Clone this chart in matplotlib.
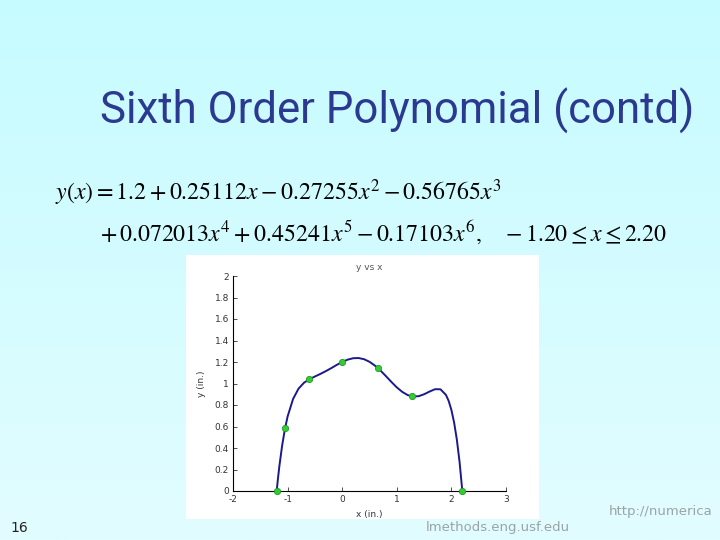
import numpy as np
import matplotlib.pyplot as plt
from matplotlib.patches import Rectangle

# Data points (green markers)
x_data = [-1.2, -1.05, -0.6, 0.0, 0.65, 1.27, 2.2]
y_data = [0.0, 0.59, 1.04, 1.2, 1.145, 0.88, 0.0]

# Curve
x_curve = [-1.2, -1.175, -1.15, -1.1, -1.05, -1.0, -0.9, -0.8, -0.7, -0.6, -0.5,
           -0.4, -0.3, -0.2, -0.1, 0.0, 0.1, 0.2, 0.3, 0.4, 0.5, 0.6, 0.7, 0.8,
           0.9, 1.0, 1.1, 1.2, 1.3, 1.4, 1.5, 1.6, 1.7, 1.8, 1.9, 1.95, 2.0,
           2.05, 2.1, 2.15, 2.2]
y_curve = [0.0, 0.123, 0.234, 0.423, 0.574, 0.693, 0.856, 0.952, 1.007, 1.040, 1.065,
           1.089, 1.115, 1.143, 1.173, 1.2, 1.222, 1.235, 1.237, 1.226, 1.202, 1.166, 1.121, 1.069,
           1.015, 0.964, 0.922, 0.892, 0.879, 0.882, 0.900, 0.925, 0.947, 0.946, 0.894, 0.838, 0.754,
           0.636, 0.477, 0.268, 0.0]

x_ticks = [-2, -1, 0, 1, 2, 3]
y_ticks = [0, 0.2, 0.4, 0.6, 0.8, 1, 1.2, 1.4, 1.6, 1.8, 2]

plt.rcParams['mathtext.fontset'] = 'stix'

fig = plt.figure(figsize=(7.2, 5.4), dpi=100)

# Slide background gradient
bg = fig.add_axes([0, 0, 1, 1], zorder=-10)
grad = np.linspace(0, 1, 256).reshape(-1, 1)
bg.imshow(grad, aspect='auto', extent=[0, 1, 0, 1], origin='upper',
          cmap=plt.matplotlib.colors.LinearSegmentedColormap.from_list(
              'slide', ['#c6fbff', '#e2fdff']))
bg.set_xlim(0, 1)
bg.set_ylim(0, 1)
bg.axis('off')

# White picture area of the chart
bg.add_patch(Rectangle((186 / 720, 1 - 519 / 540), (539 - 186) / 720, (519 - 255) / 540,
                       facecolor='white', edgecolor='none', zorder=2))

# Slide title
fig.text(100 / 720, 1 - 111 / 540, 'Sixth Order Polynomial (contd)', fontsize=31.5,
         color='#2b3a90', va='center', ha='left', family='Roboto')

# Equation lines
fig.text(55 / 720, 1 - 193 / 540,
         r'$y(x) = 1.2 + 0.25112x - 0.27255x^2 - 0.56765x^3$',
         fontsize=17.2, color='black', va='center', ha='left')
fig.text(100 / 720, 1 - 233 / 540,
         r'$+\,0.072013x^4 + 0.45241x^5 - 0.17103x^6,\quad -1.20 \leq x \leq 2.20$',
         fontsize=17.2, color='black', va='center', ha='left')

# Chart axes
ax = fig.add_axes([233 / 720, 1 - 491 / 540, (506 - 233) / 720, (491 - 276) / 540])
ax.set_facecolor('white')
ax.plot(x_curve, y_curve, color='#1a1a8c', linewidth=1.4, zorder=3)
ax.plot(x_data, y_data, 'o', color='#33cc33', markeredgecolor='#229922',
        markersize=4.5, markeredgewidth=0.6, zorder=4, clip_on=False)
ax.set_xlim(-2, 3)
ax.set_ylim(0, 2)
ax.set_xticks(x_ticks)
ax.set_yticks(y_ticks)
ax.set_xticklabels([str(t) for t in x_ticks])
ax.set_yticklabels(['0', '0.2', '0.4', '0.6', '0.8', '1', '1.2', '1.4', '1.6', '1.8', '2'])
ax.tick_params(direction='in', length=3, width=0.6, labelsize=6.5, colors='#333333',
               pad=3)
ax.spines['top'].set_visible(False)
ax.spines['right'].set_visible(False)
for s in ['left', 'bottom']:
    ax.spines[s].set_linewidth(0.8)
ax.set_title('y vs x', fontsize=6.5, color='#555555', pad=4)
ax.set_xlabel('x (in.)', fontsize=6.5, color='#333333', labelpad=4)
ax.set_ylabel('y (in.)', fontsize=6.5, color='#333333', labelpad=6)

# Footer
fig.text(10 / 720, 1 - 528 / 540, '16', fontsize=10, color='#222222', va='center')
fig.text(712 / 720, 1 - 512 / 540, 'http://numerica', fontsize=9.5, color='#9aa4a6',
         va='center', ha='right')
fig.text(426 / 720, 1 - 528 / 540, 'lmethods.eng.usf.edu', fontsize=9.5, color='#9aa4a6',
         va='center', ha='left')

fig.savefig('out.png', dpi=100)
